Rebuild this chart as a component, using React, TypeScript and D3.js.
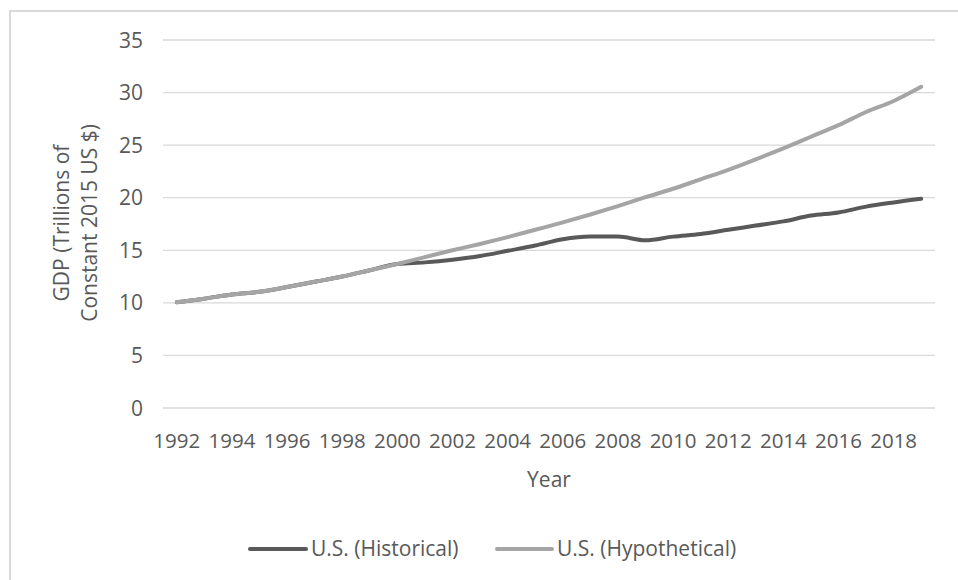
import React from "react";
import * as d3 from "d3";

const years: number[] = [
  1992, 1993, 1994, 1995, 1996, 1997, 1998, 1999, 2000, 2001, 2002, 2003, 2004, 2005,
  2006, 2007, 2008, 2009, 2010, 2011, 2012, 2013, 2014, 2015, 2016, 2017, 2018, 2019,
];
const historical: number[] = [
  10.05, 10.4, 10.8, 11.05, 11.5, 12.0, 12.5, 13.1, 13.7, 13.85, 14.1, 14.45, 14.95, 15.45,
  16.05, 16.3, 16.3, 15.95, 16.3, 16.55, 16.95, 17.35, 17.75, 18.3, 18.6, 19.15, 19.55, 19.9,
];
const hypothetical: number[] = [
  10.05, 10.4, 10.8, 11.05, 11.5, 12.0, 12.5, 13.1, 13.7, 14.35, 15.0, 15.6, 16.25, 16.95,
  17.65, 18.4, 19.2, 20.05, 20.85, 21.75, 22.65, 23.65, 24.7, 25.8, 26.9, 28.15, 29.2, 30.55,
];
const yTicks: number[] = [0, 5, 10, 15, 20, 25, 30, 35];
const seriesNames: string[] = ["U.S. (Historical)", "U.S. (Hypothetical)"];
const seriesColors: string[] = ["#595959", "#a5a5a5"];

const W = 958;
const H = 580;
const plot = { left: 163, right: 935, top: 40, bottom: 408 };
const font = "'Open Sans', sans-serif";
const textColor = "#595959";
const fs = 21;

export default function App() {
  const x = d3
    .scaleBand<number>()
    .domain(years)
    .range([plot.left, plot.right]);
  const cx = (yr: number) => (x(yr) as number) + x.bandwidth() / 2;
  const y = d3.scaleLinear().domain([0, 35]).range([plot.bottom, plot.top]);

  const line = d3
    .line<number>()
    .x((_, i) => cx(years[i]))
    .y((v) => y(v))
    .curve(d3.curveMonotoneX);

  const series = [historical, hypothetical];
  const labelYears = years.filter((yr) => yr % 2 === 0);

  const legend = [
    { x1: 250, x2: 306, tx: 311 },
    { x1: 497, x2: 552, tx: 557 },
  ];

  return (
    <div style={{ position: "absolute", left: 0, top: 0, width: W, height: H, background: "#fff" }}>
      <svg width={W} height={H} style={{ display: "block", fontFamily: font }}>
        <rect x={0} y={0} width={W} height={H} fill="#ffffff" />
        <path d={`M10,${H + 5} L10,11 L${W + 5},11`} fill="none" stroke="#d9d9d9" strokeWidth={2} />

        {yTicks.map((t) => (
          <line
            key={`g${t}`}
            x1={plot.left}
            x2={plot.right}
            y1={y(t)}
            y2={y(t)}
            stroke="#d9d9d9"
            strokeWidth={1.3}
          />
        ))}

        {yTicks.map((t) => (
          <text
            key={`yl${t}`}
            x={143}
            y={y(t)}
            dy="0.36em"
            textAnchor="end"
            fontSize={fs}
            fill={textColor}
          >
            {t}
          </text>
        ))}

        {labelYears.map((yr) => (
          <text
            key={`xl${yr}`}
            x={cx(yr)}
            y={448}
            textAnchor="middle"
            fontSize={fs - 0.5}
            fill={textColor}
          >
            {yr}
          </text>
        ))}

        <text x={549} y={487} textAnchor="middle" fontSize={fs} fill={textColor}>
          Year
        </text>
        <g transform="translate(62,223) rotate(-90)">
          <text x={0} y={0} dy="0.35em" textAnchor="middle" fontSize={fs} fill={textColor}>
            GDP (Trillions of
          </text>
        </g>
        <g transform="translate(90,223) rotate(-90)">
          <text x={0} y={0} dy="0.35em" textAnchor="middle" fontSize={fs} fill={textColor}>
            Constant 2015 US $)
          </text>
        </g>

        {series.map((s, i) => (
          <path
            key={`s${i}`}
            d={line(s) || ""}
            fill="none"
            stroke={seriesColors[i]}
            strokeWidth={4}
            strokeLinecap="round"
            strokeLinejoin="round"
          />
        ))}

        {legend.map((l, i) => (
          <g key={`lg${i}`}>
            <line
              x1={l.x1}
              x2={l.x2}
              y1={549}
              y2={549}
              stroke={seriesColors[i]}
              strokeWidth={4}
              strokeLinecap="round"
            />
            <text x={l.tx} y={549} dy="0.35em" fontSize={fs} fill={textColor}>
              {seriesNames[i]}
            </text>
          </g>
        ))}
      </svg>
    </div>
  );
}
